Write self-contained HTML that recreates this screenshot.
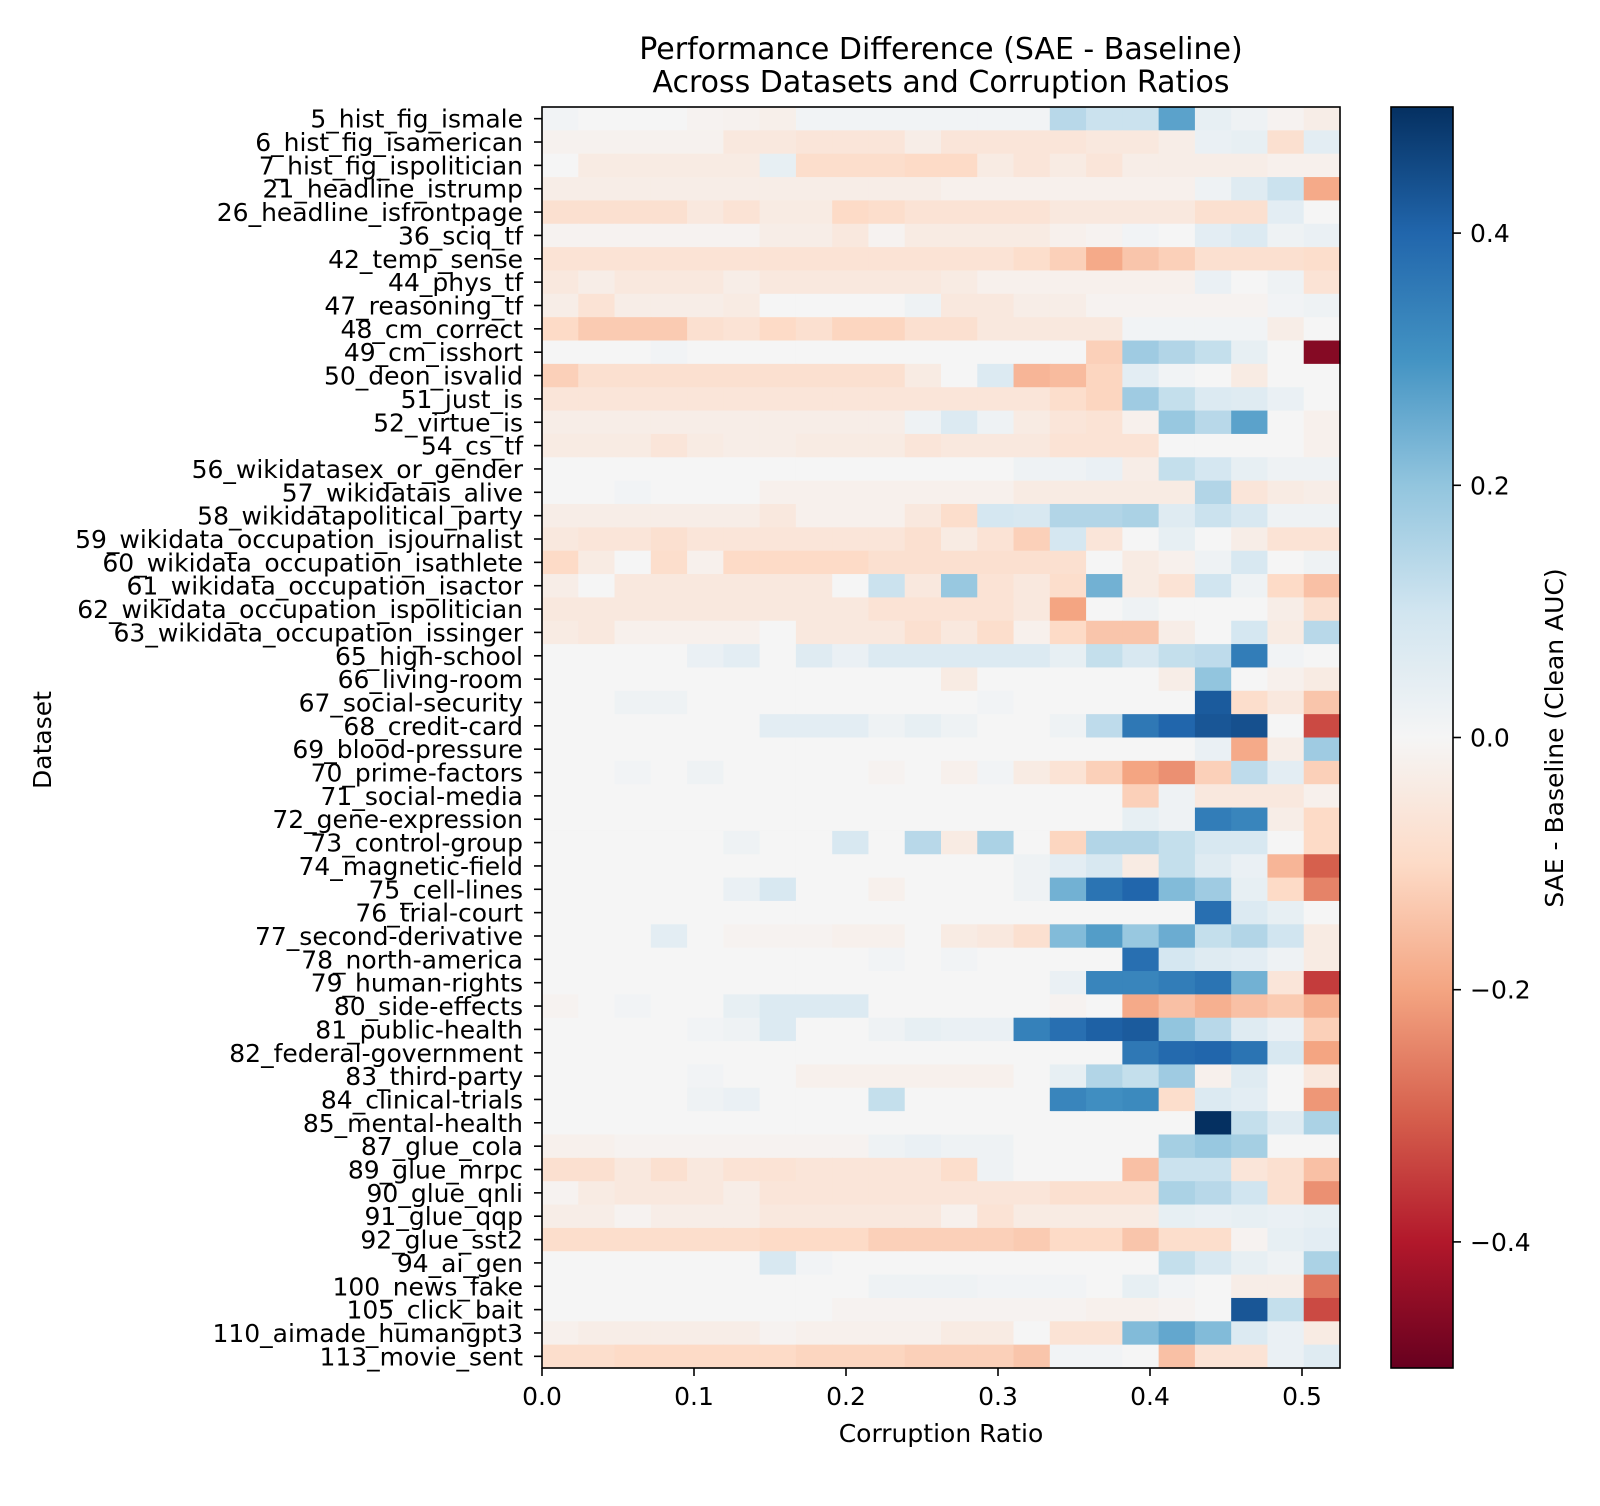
<!DOCTYPE html>
<html><head><meta charset="utf-8"><style>
html,body{margin:0;padding:0;background:#fff;}
svg{display:block;font-family:"DejaVu Sans","Liberation Sans",sans-serif;}
</style></head><body>
<svg id="chart" width="1600" height="1506" viewBox="0 0 1600 1506" xmlns="http://www.w3.org/2000/svg">
<rect width="1600" height="1506" fill="#fff"/>
<text x="941" y="59" font-size="30" text-anchor="middle" fill="#000">Performance Difference (SAE - Baseline)</text>
<text x="941" y="92" font-size="30" text-anchor="middle" fill="#000">Across Datasets and Corruption Ratios</text>
<g id="cells"></g>
<g id="ylabels"></g>
<g id="xticks"></g>
<rect x="542" y="107" width="798" height="1261" fill="none" stroke="#000" stroke-width="1.6"/>
<text x="941" y="1442" font-size="25" text-anchor="middle">Corruption Ratio</text>
<text x="51" y="740" font-size="25" text-anchor="middle" transform="rotate(-90 51 740)">Dataset</text>
<defs><linearGradient id="cbgrad" x1="0" y1="1" x2="0" y2="0"></linearGradient></defs>
<rect x="1391" y="107" width="62" height="1261" fill="url(#cbgrad)" stroke="#000" stroke-width="1.6"/>
<g id="cbticks"></g>
<text x="1563" y="738" font-size="25" text-anchor="middle" transform="rotate(-90 1563 738)">SAE - Baseline (Clean AUC)</text>
</svg>
<script>
const datasets = ["5_hist_fig_ismale","6_hist_fig_isamerican","7_hist_fig_ispolitician","21_headline_istrump","26_headline_isfrontpage","36_sciq_tf","42_temp_sense","44_phys_tf","47_reasoning_tf","48_cm_correct","49_cm_isshort","50_deon_isvalid","51_just_is","52_virtue_is","54_cs_tf","56_wikidatasex_or_gender","57_wikidatais_alive","58_wikidatapolitical_party","59_wikidata_occupation_isjournalist","60_wikidata_occupation_isathlete","61_wikidata_occupation_isactor","62_wikidata_occupation_ispolitician","63_wikidata_occupation_issinger","65_high-school","66_living-room","67_social-security","68_credit-card","69_blood-pressure","70_prime-factors","71_social-media","72_gene-expression","73_control-group","74_magnetic-field","75_cell-lines","76_trial-court","77_second-derivative","78_north-america","79_human-rights","80_side-effects","81_public-health","82_federal-government","83_third-party","84_clinical-trials","85_mental-health","87_glue_cola","89_glue_mrpc","90_glue_qnli","91_glue_qqp","92_glue_sst2","94_ai_gen","100_news_fake","105_click_bait","110_aimade_humangpt3","113_movie_sent"];
const xTickValues = [0.0,0.1,0.2,0.3,0.4,0.5];
const xTickLabels = ["0.0","0.1","0.2","0.3","0.4","0.5"];
const cbTickValues = [0.4,0.2,0.0,-0.2,-0.4];
const cbTickLabels = ["0.4","0.2","0.0","\u22120.2","\u22120.4"];
const values = [
[0.01,0,0,0,-0.01,-0.015,-0.025,0.01,0.01,0.01,0.01,0.01,0.01,0.01,0.14,0.11,0.11,0.27,0.04,0.02,-0.01,-0.03],
[-0.015,-0.015,-0.015,-0.015,-0.015,-0.05,-0.05,-0.06,-0.06,-0.06,-0.03,-0.06,-0.06,-0.06,-0.06,-0.05,-0.05,-0.03,0.03,0.04,-0.08,0.05],
[0,-0.04,-0.04,-0.04,-0.04,-0.04,0.04,-0.09,-0.09,-0.09,-0.1,-0.1,-0.04,-0.06,-0.04,-0.06,-0.03,-0.03,-0.03,-0.03,-0.02,-0.02],
[-0.03,-0.03,-0.03,-0.03,-0.03,-0.03,-0.03,-0.03,-0.03,-0.03,-0.03,-0.02,-0.02,-0.02,-0.02,-0.02,-0.02,-0.02,0.02,0.06,0.11,-0.19],
[-0.08,-0.08,-0.08,-0.08,-0.05,-0.07,-0.04,-0.04,-0.1,-0.09,-0.07,-0.07,-0.07,-0.07,-0.05,-0.05,-0.05,-0.05,-0.08,-0.08,0.05,0.0],
[-0.01,-0.01,-0.01,-0.01,-0.01,-0.01,-0.03,-0.03,-0.05,-0.01,-0.04,-0.04,-0.04,-0.04,-0.02,-0.01,0.01,0.0,0.05,0.07,0.02,0.03],
[-0.07,-0.07,-0.07,-0.07,-0.07,-0.07,-0.07,-0.07,-0.07,-0.07,-0.07,-0.07,-0.07,-0.09,-0.12,-0.19,-0.14,-0.12,-0.08,-0.08,-0.08,-0.09],
[-0.05,-0.03,-0.05,-0.05,-0.05,-0.03,-0.05,-0.05,-0.05,-0.05,-0.05,-0.04,-0.02,-0.02,-0.02,-0.02,-0.02,-0.02,0.03,0.0,0.02,-0.07],
[-0.03,-0.07,-0.03,-0.03,-0.03,-0.04,0,0,0,0,0.02,-0.05,-0.05,-0.03,-0.03,-0.01,-0.01,-0.01,-0.01,-0.01,0.01,0.02],
[-0.1,-0.13,-0.13,-0.13,-0.08,-0.07,-0.1,-0.08,-0.11,-0.11,-0.08,-0.08,-0.05,-0.05,-0.05,-0.05,0.01,0.01,0.01,0.01,-0.03,0.0],
[0,0,0,0.01,0,0,0,0,0,0,0,0,0,0,0,-0.12,0.18,0.15,0.12,0.04,0.0,-0.46],
[-0.12,-0.08,-0.08,-0.08,-0.08,-0.08,-0.08,-0.08,-0.08,-0.08,-0.04,0,0.07,-0.17,-0.16,-0.11,0.05,0.01,0.0,-0.04,0.0,0.0],
[-0.06,-0.06,-0.06,-0.06,-0.06,-0.06,-0.06,-0.06,-0.06,-0.06,-0.06,-0.06,-0.06,-0.06,-0.09,-0.11,0.18,0.12,0.07,0.06,0.03,0.0],
[-0.03,-0.03,-0.03,-0.03,-0.03,-0.03,-0.03,-0.03,-0.03,-0.03,0.02,0.07,0.02,-0.04,-0.06,-0.07,-0.02,0.19,0.14,0.27,0.0,-0.02],
[-0.04,-0.04,-0.04,-0.06,-0.04,-0.03,-0.03,-0.04,-0.04,-0.04,-0.06,-0.05,-0.05,-0.05,-0.07,-0.07,-0.07,0.0,0.0,0.0,0.0,-0.02],
[0,0,0,0,0,0,0,0,0,0,0,0,0,0.02,0.02,0.03,-0.03,0.12,0.09,0.04,0.02,0.02],
[0,0,0.01,0,0,0,-0.02,-0.02,-0.02,-0.02,-0.02,-0.02,-0.02,-0.04,-0.04,-0.04,-0.04,-0.04,0.15,-0.06,-0.04,-0.03],
[-0.03,-0.03,-0.03,-0.03,-0.03,-0.03,-0.05,-0.02,-0.02,-0.02,-0.05,-0.09,0.09,0.08,0.15,0.15,0.16,0.06,0.11,0.08,0.02,0.02],
[-0.05,-0.06,-0.06,-0.08,-0.06,-0.06,-0.06,-0.06,-0.06,-0.06,-0.08,-0.04,-0.07,-0.12,0.09,-0.06,0.0,0.04,0.0,-0.03,-0.07,-0.07],
[-0.1,-0.04,0.0,-0.09,-0.02,-0.1,-0.1,-0.1,-0.1,-0.08,-0.08,-0.08,-0.08,-0.08,-0.08,0.0,-0.04,-0.02,0.02,0.08,0.0,0.02],
[-0.03,0.0,-0.05,-0.05,-0.05,-0.05,-0.05,-0.05,0.0,0.11,-0.05,0.19,-0.07,-0.05,-0.09,0.24,-0.04,-0.07,0.1,0.02,-0.1,-0.15],
[-0.05,-0.05,-0.05,-0.05,-0.05,-0.05,-0.05,-0.05,-0.05,-0.07,-0.07,-0.07,-0.07,-0.05,-0.2,0.0,0.02,0.0,0.0,0.0,-0.03,-0.08],
[-0.04,-0.05,-0.02,-0.02,-0.02,-0.02,0.0,-0.05,-0.05,-0.05,-0.08,-0.05,-0.09,-0.02,-0.1,-0.14,-0.14,-0.03,0.0,0.09,-0.04,0.14],
[0,0,0,0,0.03,0.05,0,0.06,0.03,0.07,0.07,0.07,0.07,0.07,0.04,0.12,0.08,0.12,0.13,0.35,0.01,0.0],
[0,0,0,0,0,0,0,0,0,0,0,-0.04,0,0,0,0,0,-0.03,0.2,0.0,-0.02,-0.04],
[0,0,0.02,0.02,0,0,0,0,0,0,0,0,0.01,0,0,0,0,0,0.42,-0.09,-0.05,-0.14],
[0,0,0,0,0,0,0.05,0.05,0.05,0.02,0.04,0.02,0,0,0.02,0.13,0.36,0.4,0.43,0.44,0.0,-0.33],
[0,0,0,0,0,0,0,0,0,0,0,0,0,0,0,0,0,0,0.03,-0.19,-0.03,0.18],
[0,0,0.01,0,0.02,0,0,0,0,-0.01,0,-0.02,0.01,-0.04,-0.07,-0.12,-0.2,-0.23,-0.12,0.13,0.05,-0.12],
[0,0,0,0,0,0,0,0,0,0,0,0,0,0,0,0,-0.12,0.02,-0.05,-0.05,-0.05,-0.02],
[0,0,0,0,0,0,0,0,0,0,0,0,0,0,0,0,0.04,0.02,0.35,0.33,-0.03,-0.1],
[0,0,0,0,0,0.02,0,0,0.08,0,0.14,-0.04,0.16,0,-0.11,0.15,0.15,0.12,0.08,0.08,0.0,-0.1],
[0,0,0,0,0,0,0,0,0,0,0,0,0,0.02,0.05,0.08,-0.04,0.12,0.06,0.03,-0.17,-0.3],
[0,0,0,0,0,0.03,0.08,0,0,-0.02,0,0,0,0.02,0.24,0.37,0.4,0.22,0.18,0.04,-0.1,-0.25],
[0,0,0,0,0,0,0,0,0,0,0,0,0,0,0,0,0,0,0.38,0.07,0.04,0.0],
[0,0,0,0.05,0,-0.01,-0.01,-0.01,-0.02,-0.02,0,-0.04,-0.05,-0.08,0.22,0.28,0.19,0.25,0.12,0.15,0.1,-0.04],
[0,0,0,0,0,0,0,0,0,0.01,0,0.01,0,0,0,0,0.38,0.09,0.06,0.05,0.02,-0.04],
[0,0,0,0,0,0,0,0,0,0,0,0,0,0,0.03,0.33,0.33,0.35,0.37,0.24,-0.06,-0.35],
[-0.01,0,0.01,0,0,0.04,0.07,0.07,0.07,0,0,0,0,0,-0.01,0,-0.19,-0.15,-0.18,-0.15,-0.13,-0.18],
[0,0,0,0,0.01,0.02,0.07,0,0,0.02,0.04,0.03,0.03,0.34,0.38,0.41,0.42,0.2,0.14,0.06,0.03,-0.12],
[0,0,0,0,0,0,0,0,0,0,0,0,0,0,0,0,0.36,0.39,0.4,0.37,0.08,-0.2],
[0,0,0,0,0.01,0,0,-0.02,-0.02,-0.02,-0.02,-0.02,-0.02,0,0.04,0.15,0.12,0.18,-0.02,0.06,0.0,-0.05],
[0,0,0,0,0.02,0.03,0,0,0,0.12,0,0,0,0,0.33,0.31,0.32,-0.09,0.07,0.05,0.0,-0.22],
[0,0,0,0,0,0,0,0,0,0,0,0,0,0,0,0,0,0,0.5,0.12,0.06,0.16],
[-0.02,-0.02,-0.01,-0.01,-0.01,-0.01,-0.01,-0.01,-0.01,0.02,0.03,0.02,0.02,0,0,0,0,0.17,0.19,0.17,0.0,0.0],
[-0.08,-0.08,-0.05,-0.08,-0.05,-0.07,-0.07,-0.06,-0.06,-0.06,-0.06,-0.09,0.02,0,0,0,-0.15,0.11,0.11,-0.06,-0.08,-0.15],
[-0.01,-0.04,-0.05,-0.05,-0.05,-0.03,-0.06,-0.06,-0.06,-0.06,-0.06,-0.06,-0.06,-0.06,-0.08,-0.08,-0.08,0.16,0.14,0.1,-0.08,-0.23],
[-0.03,-0.03,-0.01,-0.03,-0.03,-0.03,-0.05,-0.05,-0.05,-0.05,-0.05,-0.02,-0.07,-0.04,-0.04,-0.04,-0.04,0.04,0.03,0.04,0.03,0.04],
[-0.09,-0.09,-0.09,-0.09,-0.09,-0.09,-0.1,-0.1,-0.1,-0.12,-0.12,-0.12,-0.12,-0.13,-0.1,-0.1,-0.14,-0.09,-0.09,-0.01,0.04,0.05],
[0,0,0,0,0,0,0.08,0.01,0,0,0,0,0,0,0,0,0,0.12,0.08,0.04,0.02,0.16],
[0,0,0,0,0,0,0,0,0,0.02,0.02,0.02,0.01,0.01,0.01,0,0.04,0.01,0,-0.03,-0.03,-0.27],
[0,0,0,0,0,0,0,0,-0.01,-0.01,-0.01,-0.01,-0.01,-0.01,-0.01,-0.02,-0.02,-0.01,0,0.43,0.12,-0.33],
[-0.02,-0.03,-0.03,-0.03,-0.03,-0.03,-0.01,-0.02,-0.02,-0.02,-0.02,-0.04,-0.04,0,-0.07,-0.07,0.22,0.26,0.22,0.07,0.03,-0.04],
[-0.09,-0.09,-0.1,-0.1,-0.1,-0.1,-0.1,-0.11,-0.11,-0.11,-0.12,-0.12,-0.12,-0.14,0.01,0.01,0.0,-0.15,-0.07,-0.07,0.03,0.06]
];
const NS="http://www.w3.org/2000/svg";
const X0=542,X1=1340,Y0=107,Y1=1368,XMAX=0.525,VMIN=-0.5,VMAX=0.5;
const nRows=datasets.length,nCols=values[0].length;
const colW=(X1-X0)/nCols,rowH=(Y1-Y0)/nRows;
const xScale=v=>X0+(v/XMAX)*(X1-X0);
const cbScale=v=>Y1-(v-VMIN)/(VMAX-VMIN)*(Y1-Y0);
const stops=["#67001f","#b2182b","#d6604d","#f4a582","#fddbc7","#f5f5f5","#d1e5f0","#92c5de","#4393c3","#2166ac","#053061"];
function hex(h){return [1,3,5].map(i=>parseInt(h.substr(i,2),16));}
function color(v){let t=(v-VMIN)/(VMAX-VMIN);t=Math.max(0,Math.min(1,t));const p=t*10,i=Math.min(9,Math.floor(p)),f=p-i;const a=hex(stops[i]),b=hex(stops[i+1]);return "rgb("+a.map((c,k)=>Math.round(c+(b[k]-c)*f)).join(",")+")";}
const cells=document.getElementById('cells');
values.forEach((row,r)=>{row.forEach((v,c)=>{
  const el=document.createElementNS(NS,'rect');
  
  
  el.setAttribute('x',(X0+c*colW).toFixed(2));el.setAttribute('y',(Y0+r*rowH).toFixed(2));
  el.setAttribute('width',(colW+0.6).toFixed(2));el.setAttribute('height',(rowH+0.6).toFixed(2));
  el.setAttribute('fill',color(v));cells.appendChild(el);});});
const yl=document.getElementById('ylabels');
datasets.forEach((d,r)=>{const cy=Y0+(r+0.5)*rowH;
  const t=document.createElementNS(NS,'text');
  
  
  t.setAttribute('x',523);t.setAttribute('y',(cy+9).toFixed(1));t.setAttribute('font-size','25');t.setAttribute('text-anchor','end');t.textContent=d;yl.appendChild(t);
  const l=document.createElementNS(NS,'line');
  
  
  l.setAttribute('x1',534);l.setAttribute('x2',542);l.setAttribute('y1',cy);l.setAttribute('y2',cy);l.setAttribute('stroke','#000');l.setAttribute('stroke-width','1.6');yl.appendChild(l);});
const xt=document.getElementById('xticks');
xTickValues.forEach((v,i)=>{const x=xScale(v);
  const l=document.createElementNS(NS,'line');
  
  
  l.setAttribute('x1',x);l.setAttribute('x2',x);l.setAttribute('y1',1368);l.setAttribute('y2',1376);l.setAttribute('stroke','#000');l.setAttribute('stroke-width','1.6');xt.appendChild(l);
  const t=document.createElementNS(NS,'text');
  
  
  t.setAttribute('x',x);t.setAttribute('y',1405);t.setAttribute('font-size','25');t.setAttribute('text-anchor','middle');t.textContent=xTickLabels[i];xt.appendChild(t);});
const g=document.getElementById('cbgrad');
for(let i=0;i<=10;i++){const s=document.createElementNS(NS,'stop');s.setAttribute('offset',(i/10));s.setAttribute('stop-color',stops[i]);g.appendChild(s);}
const cb=document.getElementById('cbticks');
cbTickValues.forEach((v,i)=>{const y=cbScale(v);
  const l=document.createElementNS(NS,'line');
  
  
  l.setAttribute('x1',1453);l.setAttribute('x2',1461);l.setAttribute('y1',y);l.setAttribute('y2',y);l.setAttribute('stroke','#000');l.setAttribute('stroke-width','1.6');cb.appendChild(l);
  const t=document.createElementNS(NS,'text');
  
  
  t.setAttribute('x',1470);t.setAttribute('y',y+9);t.setAttribute('font-size','25');t.textContent=cbTickLabels[i];cb.appendChild(t);});
</script>
</body></html>
